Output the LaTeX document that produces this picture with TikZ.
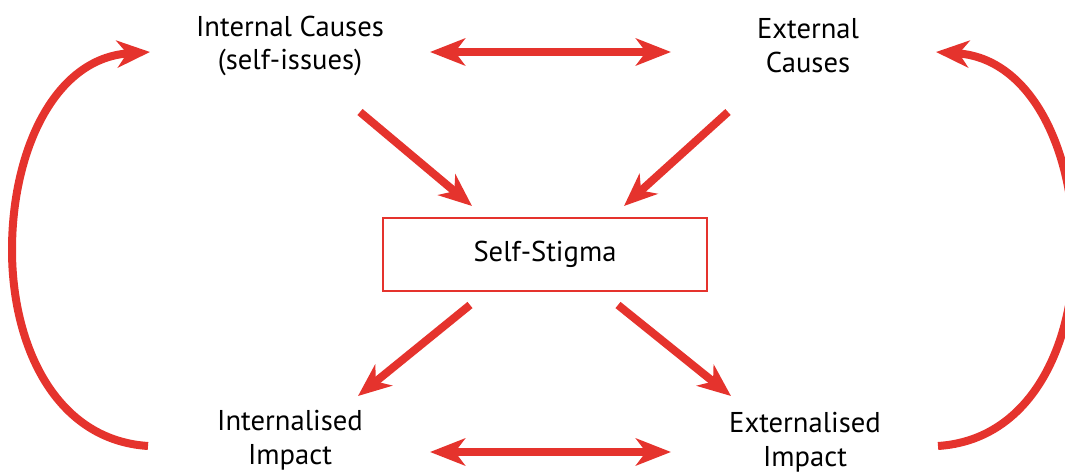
\documentclass[tikz,border=0pt]{standalone}
\usepackage{fontspec}
\setmainfont{PT Sans}
\usetikzlibrary{arrows.meta}
\definecolor{stigmared}{RGB}{229,51,45}

\begin{document}
\begin{tikzpicture}[x=0.02cm, y=-0.02cm,
    % Estilos
    lbl/.style={
        font=\fontsize{16.3}{19.3}\selectfont, align=center, text=black
    },
    core/.style={
        draw=stigmared, line width=1.2pt, minimum width=6.48cm,
        minimum height=1.46cm, font=\fontsize{16.3}{19.3}\selectfont
    },
    conn/.style={
        -{Stealth[length=0.66cm, width=0.54cm, inset=0.2cm]},
        line width=0.16cm, stigmared
    },
    both/.style={
        {Stealth[length=0.7cm, width=0.54cm, inset=0.2cm]}-{Stealth[length=0.7cm, width=0.54cm, inset=0.2cm]},
        line width=0.16cm, stigmared
    }
]
\useasboundingbox (0,0) rectangle (1065,472);
\clip (0,0) rectangle (1065,472);

% =============================================
% NODOS
% =============================================
\node[lbl] (intc) at (290,46) {Internal Causes\\(self-issues)};
\node[lbl] (extc) at (808,46) {External\\Causes};
\node[core] (stigma) at (545,254.5) {Self-Stigma};
\node[lbl] (inti) at (290,440) {Internalised\\Impact};
\node[lbl] (exti) at (805,442) {Externalised\\Impact};

% puntos de enlace
\coordinate (ic-out) at (360,112);
\coordinate (ec-out) at (728,112);
\coordinate (st-in1) at (472,206);
\coordinate (st-in2) at (624,206);
\coordinate (st-out1) at (470,305);
\coordinate (st-out2) at (618,305);
\coordinate (ii-in) at (358,396);
\coordinate (ei-in) at (731,396);
\coordinate (top-l) at (430,52);
\coordinate (top-r) at (671,52);
\coordinate (bot-l) at (430,452);
\coordinate (bot-r) at (671,452);
\coordinate (arc-l) at (148,446);
\coordinate (arc-r) at (938,446);
\coordinate (tip-l) at (150,52);
\coordinate (tip-r) at (936,52);

% =============================================
% FLECHAS
% =============================================
\draw[both] (top-l) -- (top-r);
\draw[both] (bot-l) -- (bot-r);

\draw[conn] (ic-out) -- (st-in1);
\draw[conn] (ec-out) -- (st-in2);
\draw[conn] (st-out1) -- (ii-in);
\draw[conn] (st-out2) -- (ei-in);

% arcos laterales
\draw[conn] (arc-l) .. controls (55,440) and (12,345) .. (12,250)
    .. controls (12,150) and (55,58) .. (tip-l);
\draw[conn] (arc-r) .. controls (1031,440) and (1074,345) .. (1074,250)
    .. controls (1074,150) and (1031,58) .. (tip-r);

\end{tikzpicture}
\end{document}
